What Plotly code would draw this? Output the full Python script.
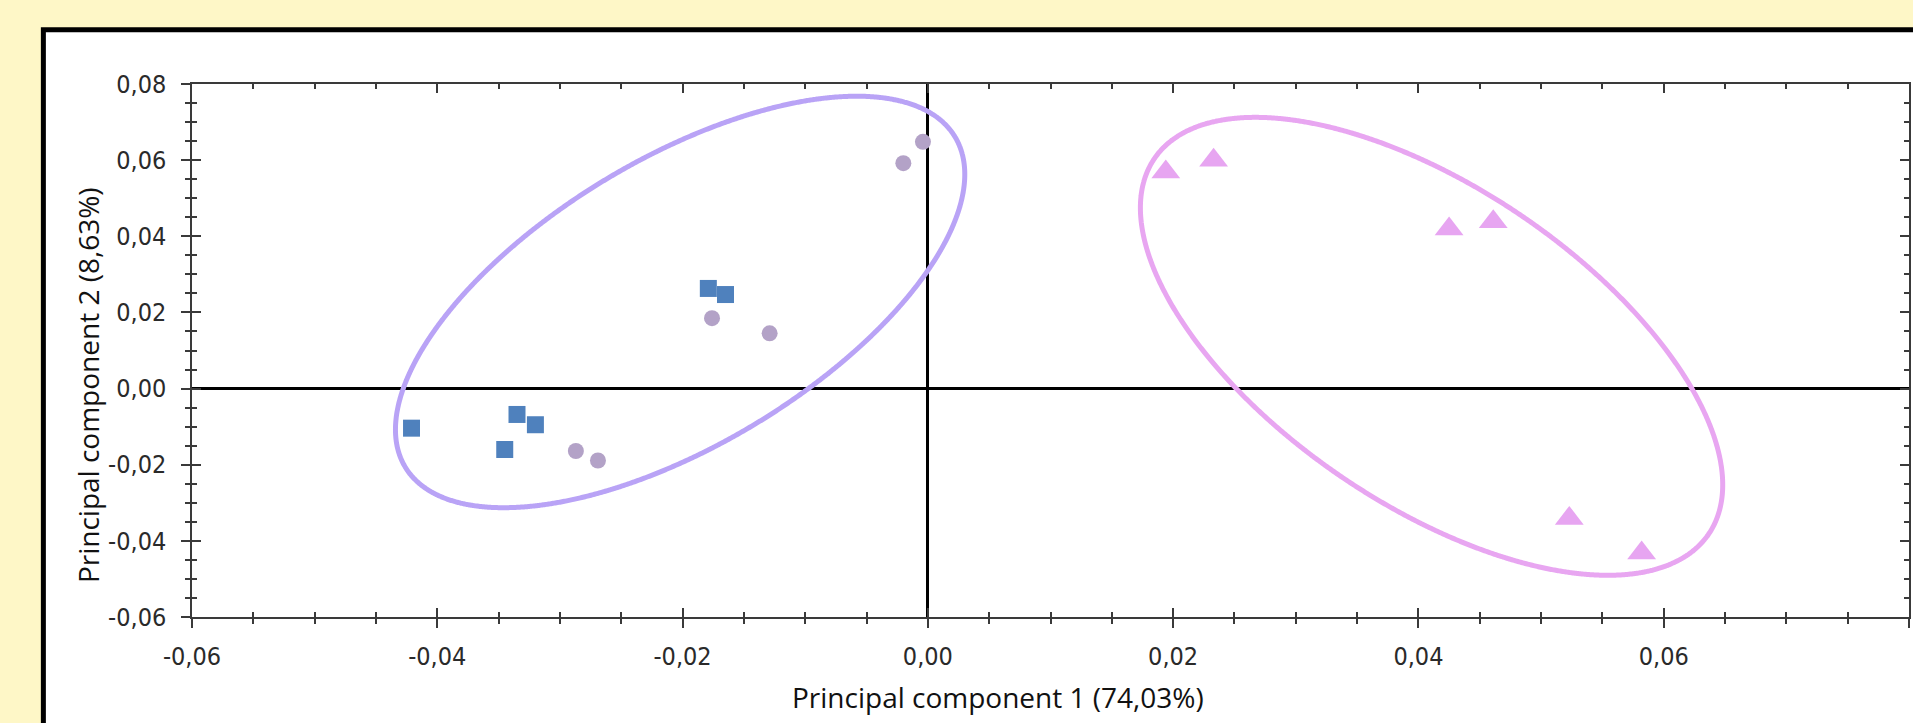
import numpy as np
import plotly.graph_objects as go

# ---------------- data ----------------
pc1_squares = [-0.0421, -0.0335, -0.0320, -0.0345, -0.0179, -0.0165]
pc2_squares = [-0.0104, -0.0068, -0.0095, -0.0160, 0.0263, 0.0247]

pc1_circles = [-0.0176, -0.0129, -0.0287, -0.0269, -0.0004, -0.0020]
pc2_circles = [0.0185, 0.0145, -0.0164, -0.0189, 0.0648, 0.0592]

pc1_triangles = [0.0194, 0.0233, 0.0425, 0.0461, 0.0523, 0.0582]
pc2_triangles = [0.0569, 0.0600, 0.0419, 0.0438, -0.0341, -0.0432]

# confidence ellipses: centre, half-range in x, half-range in y, correlation
ellipse_left = dict(cx=-0.0202, cy=0.02275, rx=0.02321, ry=0.05404, r=0.62)
ellipse_right = dict(cx=0.04107, cy=0.0111, rx=0.02374, ry=0.06014, r=-0.605)

x_tick_vals = [-0.06, -0.04, -0.02, 0.0, 0.02, 0.04, 0.06, 0.08]
x_tick_labels = ["-0,06", "-0,04", "-0,02", "0,00", "0,02", "0,04", "0,06", "0,08"]
y_tick_vals = [-0.06, -0.04, -0.02, 0.0, 0.02, 0.04, 0.06, 0.08]
y_tick_labels = ["-0,06", "-0,04", "-0,02", "0,00", "0,02", "0,04", "0,06", "0,08"]

x_title = "Principal component 1 (74,03%)"
y_title = "Principal component 2 (8,63%)"

# ---------------- styling ----------------
W, H = 1913, 723
ML, MR, MT, MB = 192, 2, 84, 106
PW, PH = W - ML - MR, H - MT - MB

def px_to_paper_x(px):
    return (px - ML) / PW

def px_to_paper_y(py):
    return (H - MB - py) / PH

SQ_COLOR = "#4F81BD"
CI_COLOR = "#B3A2C7"
TR_COLOR = "#E7A5F1"
EL_LEFT_COLOR = "#B9A3F6"
EL_RIGHT_COLOR = "#E8A6F1"
AXIS_COLOR = "#3a3a3a"
TICK_FONT = dict(family="DejaVu Sans Condensed, Liberation Sans Narrow, sans-serif",
                 size=25, color="#2a2a2a")
TITLE_FONT = dict(family="Open Sans, Noto Sans, sans-serif", size=28, color="#111111")


def ellipse_xy(e, n=721):
    t = np.linspace(0, 2 * np.pi, n)
    phi = np.arccos(e["r"])
    x = e["cx"] + e["rx"] * np.cos(t)
    y = e["cy"] + e["ry"] * np.cos(t - phi)
    return x, y


fig = go.Figure()

for e, col in ((ellipse_left, EL_LEFT_COLOR), (ellipse_right, EL_RIGHT_COLOR)):
    ex, ey = ellipse_xy(e)
    fig.add_trace(go.Scatter(x=ex, y=ey, mode="lines",
                             line=dict(color=col, width=5, shape="spline", smoothing=0.6),
                             showlegend=False, hoverinfo="skip"))

fig.add_trace(go.Scatter(x=pc1_squares, y=pc2_squares, mode="markers", showlegend=False,
                         marker=dict(symbol="square", size=17, color=SQ_COLOR)))
fig.add_trace(go.Scatter(x=pc1_circles, y=pc2_circles, mode="markers", showlegend=False,
                         marker=dict(symbol="circle", size=16, color=CI_COLOR)))
fig.add_trace(go.Scatter(x=pc1_triangles, y=pc2_triangles, mode="markers", showlegend=False,
                         marker=dict(symbol="triangle-up", size=25, color=TR_COLOR)))

# dummy trace to activate overlay axes (inside ticks)
fig.add_trace(go.Scatter(x=[], y=[], xaxis="x2", yaxis="y2", showlegend=False, hoverinfo="skip"))

xr = [x_tick_vals[0], x_tick_vals[-1]]
yr = [y_tick_vals[0], y_tick_vals[-1]]

common_minor_out = dict(tickmode="linear", tick0=0, dtick=0.005, ticks="outside",
                        ticklen=5, tickwidth=1.5, tickcolor=AXIS_COLOR, showgrid=False)
common_minor_in = dict(tickmode="linear", tick0=0, dtick=0.005, ticks="inside",
                       ticklen=5, tickwidth=1.5, tickcolor=AXIS_COLOR, showgrid=False)

fig.update_layout(
    width=W, height=H,
    margin=dict(l=ML, r=MR, t=MT, b=MB, pad=0),
    paper_bgcolor="#FEF7C7",
    plot_bgcolor="white",
    showlegend=False,
    xaxis=dict(range=xr, tickmode="array", tickvals=x_tick_vals, ticktext=x_tick_labels,
               ticks="outside", ticklen=9, tickwidth=1.5, tickcolor=AXIS_COLOR,
               showline=True, linecolor=AXIS_COLOR, linewidth=1.5, mirror=False,
               showgrid=False, zeroline=True, zerolinecolor="black", zerolinewidth=2.5,
               tickfont=TICK_FONT, ticklabelstandoff=7, minor=common_minor_out,
               anchor="y"),
    yaxis=dict(range=yr, tickmode="array", tickvals=y_tick_vals, ticktext=y_tick_labels,
               ticks="outside", ticklen=9, tickwidth=1.5, tickcolor=AXIS_COLOR,
               showline=True, linecolor=AXIS_COLOR, linewidth=1.5, mirror=False,
               showgrid=False, zeroline=True, zerolinecolor="black", zerolinewidth=2.5,
               tickfont=TICK_FONT, ticklabelstandoff=10, minor=common_minor_out,
               anchor="x"),
    xaxis2=dict(range=xr, overlaying="x", anchor="y2", side="bottom",
                tickmode="array", tickvals=x_tick_vals, showticklabels=False,
                ticks="inside", ticklen=9, tickwidth=1.5, tickcolor=AXIS_COLOR,
                showline=True, linecolor=AXIS_COLOR, linewidth=1.5, mirror="ticks",
                showgrid=False, zeroline=False, minor=common_minor_in),
    yaxis2=dict(range=yr, overlaying="y", anchor="x2", side="left",
                tickmode="array", tickvals=y_tick_vals, showticklabels=False,
                ticks="inside", ticklen=9, tickwidth=1.5, tickcolor=AXIS_COLOR,
                showline=True, linecolor=AXIS_COLOR, linewidth=1.5, mirror="ticks",
                showgrid=False, zeroline=False, minor=common_minor_in),
    shapes=[
        dict(type="rect", xref="paper", yref="paper", layer="below",
             x0=px_to_paper_x(43.2), x1=px_to_paper_x(W + 60),
             y0=px_to_paper_y(H + 60), y1=px_to_paper_y(29.8),
             line=dict(color="black", width=5), fillcolor="white"),
    ],
    annotations=[
        dict(text=x_title, xref="paper", yref="paper", x=px_to_paper_x(999),
             y=px_to_paper_y(697), xanchor="center", yanchor="middle",
             showarrow=False, font=TITLE_FONT),
        dict(text=y_title, xref="paper", yref="paper", x=px_to_paper_x(88),
             y=px_to_paper_y(385), xanchor="center", yanchor="middle", textangle=-90,
             showarrow=False, font=TITLE_FONT),
    ],
)

fig.write_html("out.html", config={"displayModeBar": False},
               post_script="document.body.style.margin='0';document.body.style.overflow='hidden';")
